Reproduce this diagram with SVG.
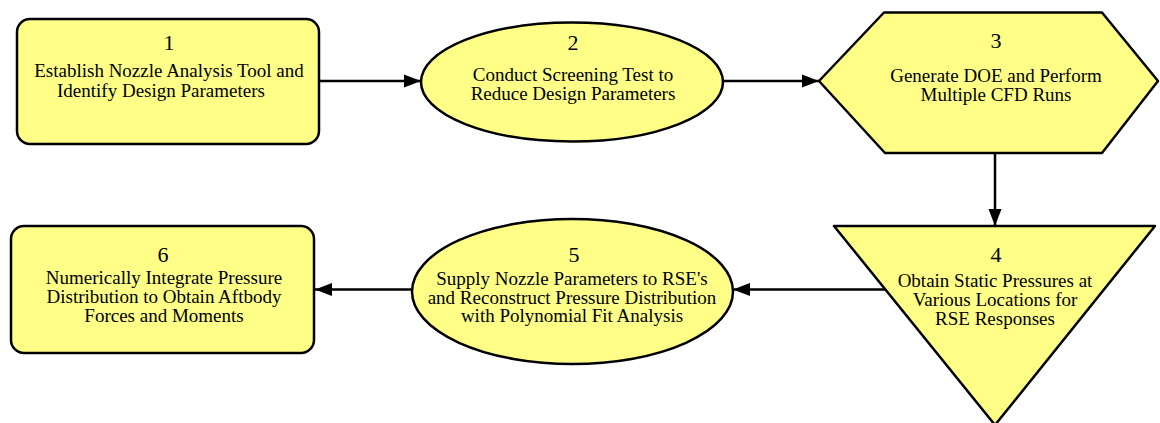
<svg xmlns="http://www.w3.org/2000/svg" width="1160" height="423" viewBox="0 0 1160 423">
<style>
.n{fill:#ffff88;stroke:#000;stroke-width:2.5;stroke-linejoin:round}
.t{font-family:"Liberation Serif","Times New Roman",serif;font-size:19px;fill:#000;text-anchor:middle}
.d{font-size:22px}
.c{stroke:#000;stroke-width:2.5;fill:none}
</style>
<defs>
<marker id="ah" markerUnits="userSpaceOnUse" markerWidth="17" markerHeight="14" refX="17" refY="7" orient="auto">
<path d="M0,0.5 L17,7 L0,13.5 z" fill="#000"/>
</marker>
</defs>
<g id="connectors">
<line class="c" x1="320" y1="81" x2="421" y2="81" marker-end="url(#ah)"/>
<line class="c" x1="723" y1="81" x2="819" y2="81" marker-end="url(#ah)"/>
<line class="c" x1="995" y1="153" x2="995" y2="226" marker-end="url(#ah)"/>
<line class="c" x1="888" y1="289.5" x2="733" y2="289.5" marker-end="url(#ah)"/>
<line class="c" x1="412" y1="289.5" x2="315" y2="289.5" marker-end="url(#ah)"/>
</g>
<g id="node1">
<rect class="n" x="17" y="19" width="302" height="125" rx="13" ry="13"/>
<text class="t d" x="169" y="50">1</text>
<text class="t" x="169" y="77">Establish Nozzle Analysis Tool and</text>
<text class="t" x="161" y="96.5">Identify Design Parameters</text>
</g>
<g id="node2">
<ellipse class="n" cx="572" cy="82" rx="151" ry="59.5"/>
<text class="t d" x="573" y="50">2</text>
<text class="t" x="573" y="80.5">Conduct Screening Test to</text>
<text class="t" x="573" y="99.5">Reduce Design Parameters</text>
</g>
<g id="node3">
<polygon class="n" points="819,81 884,12.5 1102,12.5 1158,81 1102,153 885,153"/>
<text class="t d" x="996" y="48">3</text>
<text class="t" x="996" y="81.5">Generate DOE and Perform</text>
<text class="t" x="996" y="100.5">Multiple CFD Runs</text>
</g>
<g id="node4">
<polygon class="n" points="834,226 1155,226 995,425"/>
<text class="t d" x="996" y="261.5">4</text>
<text class="t" x="995" y="287">Obtain Static Pressures at</text>
<text class="t" x="995" y="306">Various Locations for</text>
<text class="t" x="995" y="325">RSE Responses</text>
</g>
<g id="node5">
<ellipse class="n" cx="572.5" cy="291.5" rx="160.5" ry="72.5"/>
<text class="t d" x="574" y="261.5">5</text>
<text class="t" x="572" y="285">Supply Nozzle Parameters to RSE's</text>
<text class="t" x="572" y="303.5">and Reconstruct Pressure Distribution</text>
<text class="t" x="572" y="322">with Polynomial Fit Analysis</text>
</g>
<g id="node6">
<rect class="n" x="11" y="226" width="303" height="127" rx="13" ry="13"/>
<text class="t d" x="163" y="261.5">6</text>
<text class="t" x="164" y="284">Numerically Integrate Pressure</text>
<text class="t" x="164" y="303">Distribution to Obtain Aftbody</text>
<text class="t" x="164" y="322">Forces and Moments</text>
</g>
</svg>
